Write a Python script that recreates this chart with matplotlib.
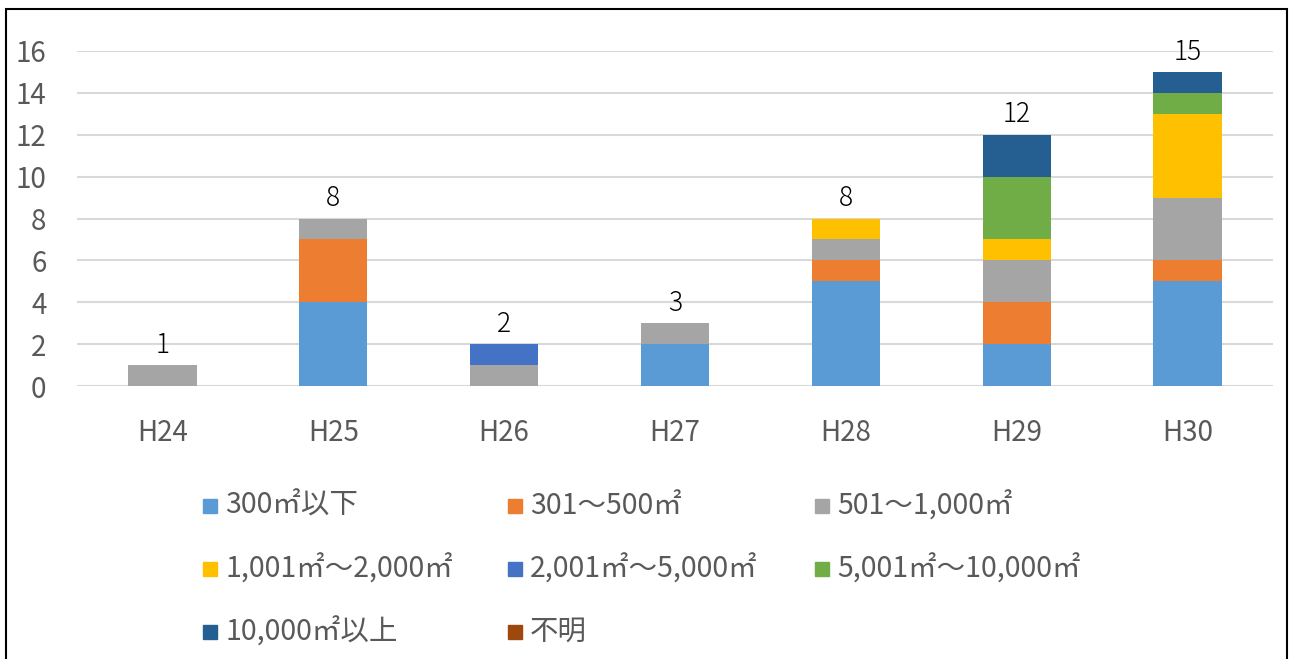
import matplotlib
matplotlib.use("Agg")
import matplotlib.pyplot as plt
from matplotlib.patches import Rectangle
import numpy as np

plt.rcParams['font.family'] = ['Noto Sans CJK JP', 'DejaVu Sans']

years = ["H24", "H25", "H26", "H27", "H28", "H29", "H30"]
series_labels = ["300㎡以下", "301～500㎡", "501～1,000㎡",
                 "1,001㎡～2,000㎡", "2,001㎡～5,000㎡", "5,001㎡～10,000㎡",
                 "10,000㎡以上", "不明"]
series_colors = ["#5B9BD5", "#ED7D31", "#A5A5A5", "#FFC000",
                 "#4472C4", "#70AD47", "#255E91", "#9E480E"]

s_300 = [0, 4, 0, 2, 5, 2, 5]
s_301_500 = [0, 3, 0, 0, 1, 2, 1]
s_501_1000 = [1, 1, 1, 1, 1, 2, 3]
s_1001_2000 = [0, 0, 0, 0, 1, 1, 4]
s_2001_5000 = [0, 0, 1, 0, 0, 0, 0]
s_5001_10000 = [0, 0, 0, 0, 0, 3, 1]
s_10000_over = [0, 0, 0, 0, 0, 2, 1]
s_unknown = [0, 0, 0, 0, 0, 0, 0]
series = [s_300, s_301_500, s_501_1000, s_1001_2000,
          s_2001_5000, s_5001_10000, s_10000_over, s_unknown]

fig = plt.figure(figsize=(12.95, 6.59), dpi=100)
ax = fig.add_axes([77 / 1295, 1 - 386 / 659, 1196 / 1295, 335 / 659])

x = np.arange(len(years))
bottom = np.zeros(len(years))
for vals, col in zip(series, series_colors):
    v = np.array(vals, dtype=float)
    ax.bar(x, v, width=0.4, bottom=bottom, color=col, zorder=3)
    bottom += v

for xi, tot in zip(x, bottom):
    ax.text(xi, tot + 0.3, f"{int(tot)}", ha="center", va="bottom",
            fontsize=19, color="black", fontweight="light")

ax.set_xlim(-0.5, len(years) - 0.5)
ax.set_ylim(0, 16)
ax.set_yticks(range(0, 17, 2))
ax.set_xticks(x)
ax.set_xticklabels(years)
ax.tick_params(axis="both", length=0, labelsize=20, labelcolor="#595959")
ax.tick_params(axis="x", pad=23)
ax.tick_params(axis="y", pad=22)
ax.grid(axis="y", color="#D9D9D9", linewidth=1.5, zorder=0)
for sp in ax.spines.values():
    sp.set_visible(False)

# legend laid out in three equal-width columns
col_x = [203, 508, 815]
row_y = [506, 569, 632]
sq = 14
for i, (lab, col) in enumerate(zip(series_labels, series_colors)):
    cx = col_x[i % 3]
    cy = row_y[i // 3]
    fig.patches.append(Rectangle((cx / 1295, 1 - (cy + sq / 2) / 659),
                                 sq / 1295, sq / 659, color=col,
                                 transform=fig.transFigure, figure=fig))
    fig.text((cx + sq + 8) / 1295, 1 - cy / 659, lab, ha="left", va="center",
             fontsize=20.5, color="#595959")

# outer frame
fig.patches.append(Rectangle((6 / 1295, -0.01), 1281 / 1295, 1 - 9 / 659 + 0.01,
                             fill=False, edgecolor="black", linewidth=1.5,
                             transform=fig.transFigure, figure=fig))

fig.savefig("out.png", dpi=100)
